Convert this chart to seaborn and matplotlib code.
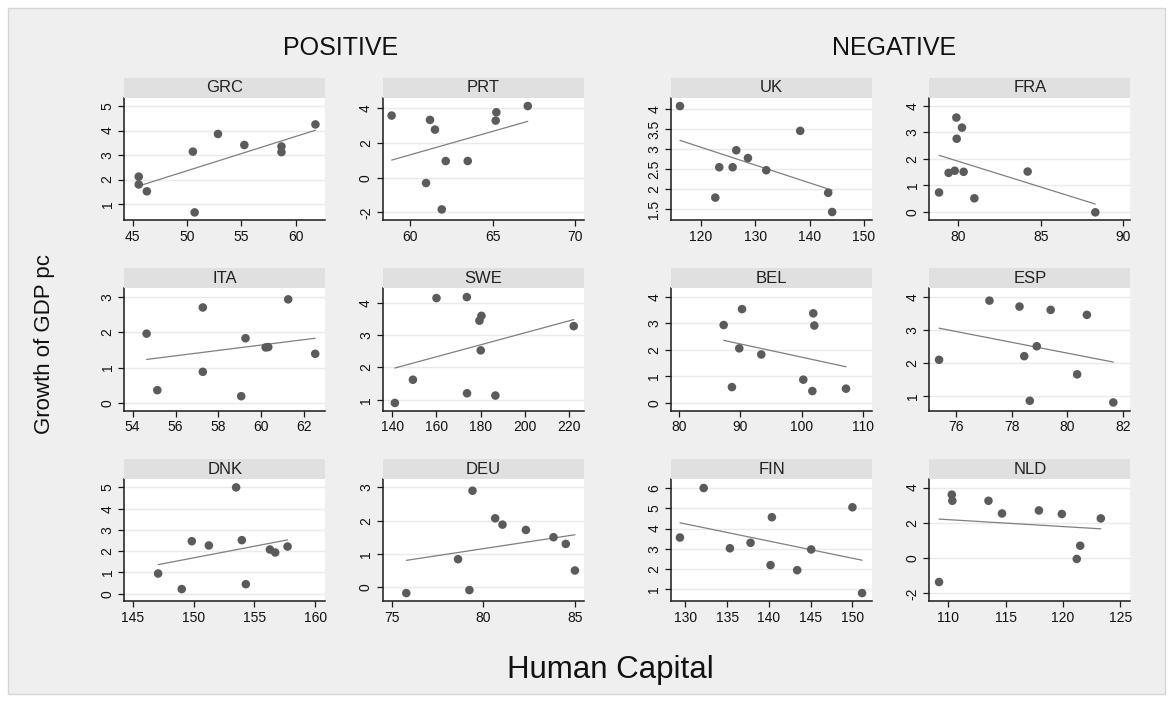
import numpy as np
import matplotlib
matplotlib.use("Agg")
import matplotlib.pyplot as plt
from matplotlib.patches import Rectangle
import seaborn as sns

sns.set_style("white")
plt.rcParams["font.family"] = ["Liberation Sans", "DejaVu Sans"]

# Human capital (x) and GDP per-capita growth (y) by country
grc_hc = [45.55, 45.55, 46.3, 50.54, 50.7, 52.85, 55.28, 58.7, 58.7, 61.83]
grc_g = [2.12, 1.80, 1.52, 3.14, 0.66, 3.86, 3.41, 3.35, 3.12, 4.25]
prt_hc = [58.89, 61.21, 61.51, 62.16, 63.49, 60.97, 61.92, 65.22, 65.18, 67.12]
prt_g = [3.58, 3.33, 2.77, 0.96, 0.96, -0.31, -1.83, 3.77, 3.29, 4.13]
uk_hc = [116.13, 122.64, 123.37, 125.83, 126.5, 128.65, 132.02, 138.28, 143.43, 144.16]
uk_g = [4.08, 1.79, 2.55, 2.55, 2.975, 2.78, 2.475, 3.46, 1.91, 1.43]
fra_hc = [78.83, 79.41, 79.78, 80.32, 79.88, 80.22, 79.9, 80.97, 84.2, 88.3]
fra_g = [0.73, 1.47, 1.55, 1.51, 3.56, 3.18, 2.76, 0.51, 1.52, -0.02]
ita_hc = [54.65, 55.15, 57.27, 57.27, 59.26, 59.06, 60.2, 60.32, 61.25, 62.51]
ita_g = [1.96, 0.36, 2.70, 0.88, 1.83, 0.19, 1.57, 1.58, 2.93, 1.39]
swe_hc = [141.2, 149.35, 173.8, 186.6, 180.0, 179.4, 180.3, 160.0, 173.7, 222.0]
swe_g = [0.90, 1.62, 1.20, 1.13, 2.53, 3.45, 3.60, 4.15, 4.18, 3.28]
bel_hc = [87.25, 90.25, 89.8, 93.4, 88.6, 100.27, 101.75, 101.9, 102.07, 107.25]
bel_g = [2.94, 3.54, 2.06, 1.83, 0.60, 0.88, 0.45, 3.38, 2.92, 0.54]
esp_hc = [75.39, 77.2, 78.28, 78.45, 78.9, 79.4, 78.65, 80.35, 80.7, 81.65]
esp_g = [2.09, 3.88, 3.70, 2.20, 2.50, 3.60, 0.85, 1.65, 3.45, 0.80]
dnk_hc = [147.09, 149.03, 149.86, 151.26, 153.97, 154.3, 156.28, 156.71, 157.73, 153.5]
dnk_g = [0.95, 0.22, 2.47, 2.27, 2.52, 0.45, 2.08, 1.94, 2.22, 5.0]
deu_hc = [75.78, 78.61, 79.23, 80.64, 81.04, 82.32, 83.83, 79.4, 84.5, 85.0]
deu_g = [-0.18, 0.84, -0.09, 2.07, 1.88, 1.72, 1.50, 2.90, 1.30, 0.50]
fin_hc = [129.36, 135.34, 137.81, 140.36, 140.2, 143.39, 145.06, 132.2, 150.0, 151.15]
fin_g = [3.56, 3.03, 3.30, 4.56, 2.20, 1.95, 2.97, 6.0, 5.05, 0.82]
nld_hc = [109.19, 114.68, 110.3, 110.35, 113.5, 117.9, 119.9, 121.2, 121.5, 123.3]
nld_g = [-1.36, 2.53, 3.60, 3.25, 3.25, 2.70, 2.50, -0.05, 0.70, 2.25]

# Panel order: rows top to bottom, columns left to right
panels = [
    ("GRC", grc_hc, grc_g), ("PRT", prt_hc, prt_g), ("UK", uk_hc, uk_g), ("FRA", fra_hc, fra_g),
    ("ITA", ita_hc, ita_g), ("SWE", swe_hc, swe_g), ("BEL", bel_hc, bel_g), ("ESP", esp_hc, esp_g),
    ("DNK", dnk_hc, dnk_g), ("DEU", deu_hc, deu_g), ("FIN", fin_hc, fin_g), ("NLD", nld_hc, nld_g),
]

# Axis limits and ticks for each panel
axis_setup = {
    "GRC": ((44.22, 62.74), [45, 50, 55, 60], (0.35, 5.34), [1, 2, 3, 4, 5]),
    "PRT": ((58.35, 70.5), [60, 65, 70], (-2.44, 4.61), [-2, 0, 2, 4]),
    "UK": ((114.48, 151.5), [120, 130, 140, 150], (1.23, 4.29), [1.5, 2, 2.5, 3, 3.5, 4]),
    "FRA": ((78.24, 90.42), [80, 85, 90], (-0.31, 4.31), [0, 1, 2, 3, 4]),
    "ITA": ((53.61, 62.98), [54, 56, 58, 60, 62], (-0.22, 3.24), [0, 1, 2, 3]),
    "SWE": ((135.7, 226.5), [140, 160, 180, 200, 220], (0.66, 4.45), [1, 2, 3, 4]),
    "BEL": ((78.64, 111.5), [80, 90, 100, 110], (-0.29, 4.32), [0, 1, 2, 3, 4]),
    "ESP": ((75.04, 82.26), [76, 78, 80, 82], (0.55, 4.25), [1, 2, 3, 4]),
    "DNK": ((144.31, 160.83), [145, 150, 155, 160], (-0.36, 5.39), [0, 1, 2, 3, 4, 5]),
    "DEU": ((74.49, 85.48), [75, 80, 85], (-0.43, 3.25), [0, 1, 2, 3]),
    "FIN": ((128.29, 152.34), [130, 135, 140, 145, 150], (0.41, 6.44), [1, 2, 3, 4, 5, 6]),
    "NLD": ((108.34, 125.87), [110, 115, 120, 125], (-2.46, 4.48), [-2, 0, 2, 4]),
}

W, H = 1173, 702
BG = "#efefef"
HEAD = "#e0e0e0"
DOT = "#5b5b5b"
FIT = "#7f7f7f"

fig = plt.figure(figsize=(W / 100, H / 100), dpi=100, facecolor="white")
fig.patches.append(Rectangle((8 / W, 1 - 694 / H), (1165 - 8) / W, (694 - 8) / H,
                             transform=fig.transFigure, facecolor=BG,
                             edgecolor="#d6d6d6", linewidth=1.0, zorder=-5))

col_left = [124.3, 382.7, 671.0, 929.3]
row_top = [97.7, 288.4, 479.1]
pw, ph, hh = 201.0, 122.3, 20.0


def fig_rect(x, y_top, w, h):
    return [x / W, 1 - (y_top + h) / H, w / W, h / H]


def fmt(v):
    return f"{v:g}"


for i, (name, hc, g) in enumerate(panels):
    r, c = divmod(i, 4)
    x0, y0 = col_left[c], row_top[r]
    ax = fig.add_axes(fig_rect(x0, y0, pw, ph))
    head = fig.add_axes(fig_rect(x0, y0 - hh, pw, hh))
    head.set_facecolor(HEAD)
    head.set_xticks([]); head.set_yticks([])
    for s in head.spines.values():
        s.set_visible(False)
    head.text(0.5, 0.5, name, ha="center", va="center", fontsize=12, color="#222222",
              transform=head.transAxes)

    xl, xt, yl, yt = axis_setup[name]
    ax.set_facecolor("white")
    ax.yaxis.grid(True, color="#eaeaea", linewidth=1.0)
    ax.set_axisbelow(True)
    sns.regplot(x=np.array(hc), y=np.array(g), ax=ax, ci=None, truncate=True,
                scatter_kws=dict(s=38, color=DOT, edgecolor="none", alpha=1, zorder=3),
                line_kws=dict(color=FIT, linewidth=0.9, zorder=2))
    ax.set_xlim(*xl); ax.set_ylim(*yl)
    ax.set_xticks(xt); ax.set_yticks(yt)
    ax.set_xticklabels([fmt(v) for v in xt])
    ax.set_yticklabels([fmt(v) for v in yt], rotation=90, va="center")
    ax.set_xlabel(""); ax.set_ylabel("")
    for side in ("top", "right"):
        ax.spines[side].set_visible(False)
    for side in ("left", "bottom"):
        ax.spines[side].set_color("#1a1a1a")
        ax.spines[side].set_linewidth(1.1)
    ax.tick_params(axis="both", direction="out", length=4, width=0.9, color="#1a1a1a",
                   labelsize=10, labelcolor="#111111", pad=3, left=True, bottom=True)

fig.text(341 / W, 1 - 48 / H, "POSITIVE", ha="center", va="center", fontsize=18, color="#111111")
fig.text(894 / W, 1 - 48 / H, "NEGATIVE", ha="center", va="center", fontsize=18, color="#111111")
fig.text(45 / W, 1 - 344 / H, "Growth of GDP pc", ha="center", va="center", rotation=90,
         fontsize=16, color="#111111")
fig.text(610 / W, 1 - 670 / H, "Human Capital", ha="center", va="center", fontsize=22.5,
         color="#111111")

fig.savefig("out.png", dpi=100, facecolor="white")
